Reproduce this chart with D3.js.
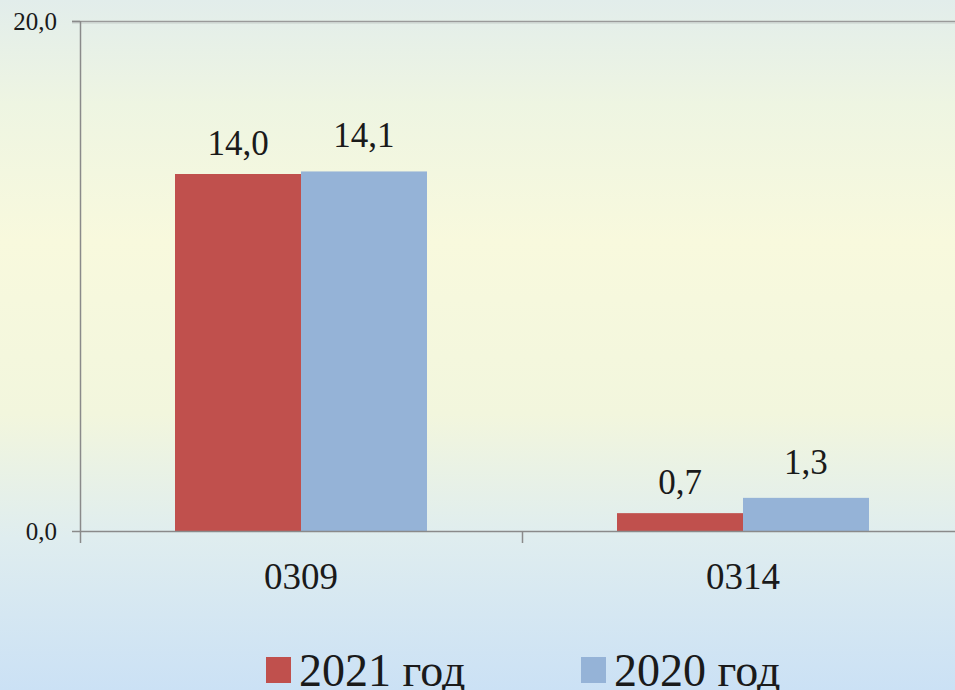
<!DOCTYPE html>
<html><head><meta charset="utf-8">
<script src="https://cdn.jsdelivr.net/npm/d3@7"></script>
</head><body style="margin:0">
<script>
const categories = ["0309", "0314"];
const seriesNames = ["2021 год", "2020 год"];
const values2021 = [14.0, 0.7];
const values2020 = [14.1, 1.3];
const yTicks = [0, 20];
const colors = ["#c0504d", "#95b3d7"];

const W = 955, H = 690;
const famParts = ["Liberation", "Serif"];
const FONT = `"${famParts.join(" ")}"`;
const svg = d3.select("body").append("svg").attr("width", W).attr("height", H).style("display", "block");
const defs = svg.append("defs");
const grad = defs.append("linearGradient").attr("id", "bg").attr("x1", 0).attr("y1", 0).attr("x2", 0).attr("y2", 1);
[[0, "#e2edeb"], [0.15, "#eef5e2"], [0.35, "#f8f9dd"], [0.6, "#f2f6dd"], [0.78, "#dfedef"], [1, "#cbe1f5"]]
  .forEach(([o, c]) => grad.append("stop").attr("offset", o).attr("stop-color", c));
svg.append("rect").attr("width", W).attr("height", H).attr("fill", "url(#bg)");

const pLeft = 80, pRight = 964, pTop = 21, pBottom = 531;
const x0 = d3.scaleBand().domain(categories).range([pLeft, pRight]).padding(0);
const x1 = d3.scaleBand().domain(seriesNames).range([0, x0.bandwidth()]).paddingInner(0).paddingOuter(0.754);
const y = d3.scaleLinear().domain([0, 20]).range([pBottom, pTop]);

const data = categories.map((c, i) => ({cat: c, vals: [values2021[i], values2020[i]]}));
const labelGap = [19, 24];

svg.append("line").attr("x1", pLeft - 8).attr("x2", W).attr("y1", y(20) + 0.5).attr("y2", y(20) + 0.5)
  .attr("stroke", "#9a9a9a").attr("stroke-width", 1.5);
svg.append("line").attr("x1", pLeft - 8).attr("x2", W).attr("y1", y(20) + 2).attr("y2", y(20) + 2)
  .attr("stroke", "#c8cfcc").attr("stroke-width", 1);

const groups = svg.selectAll("g.cat").data(data).enter().append("g")
  .attr("transform", d => `translate(${x0(d.cat)},0)`);
groups.selectAll("rect").data(d => d.vals.map((v, i) => ({v, i}))).enter().append("rect")
  .attr("x", d => x1(seriesNames[d.i]))
  .attr("width", x1.bandwidth())
  .attr("y", d => y(d.v))
  .attr("height", d => y(0) - y(d.v))
  .attr("fill", d => colors[d.i]);
groups.selectAll("text").data(d => d.vals.map((v, i) => ({v, i}))).enter().append("text")
  .style("font-family", FONT).style("font-size", "35px")
  .attr("x", d => x1(seriesNames[d.i]) + x1.bandwidth() / 2)
  .attr("y", d => y(d.v) - labelGap[d.i])
  .attr("text-anchor", "middle")
  .attr("fill", "#1a1a1a")
  .text(d => d3.format(".1f")(d.v).replace(".", ","));

const axisColor = "#8a8a8a";
svg.append("line").attr("x1", pLeft + 0.5).attr("x2", pLeft + 0.5).attr("y1", pTop).attr("y2", pBottom + 12)
  .attr("stroke", axisColor).attr("stroke-width", 1.5);
svg.append("line").attr("x1", pLeft - 8).attr("x2", W).attr("y1", pBottom + 0.5).attr("y2", pBottom + 0.5)
  .attr("stroke", axisColor).attr("stroke-width", 1.5);
svg.append("line").attr("x1", pLeft - 8).attr("x2", pLeft).attr("y1", pTop + 0.5).attr("y2", pTop + 0.5)
  .attr("stroke", axisColor).attr("stroke-width", 1.5);
categories.slice(1).forEach(c => {
  svg.append("line").attr("x1", x0(c) + 0.5).attr("x2", x0(c) + 0.5).attr("y1", pBottom).attr("y2", pBottom + 12)
    .attr("stroke", axisColor).attr("stroke-width", 1.5);
});

svg.selectAll("text.ytick").data(yTicks).enter().append("text")
  .style("font-family", FONT).style("font-size", "25px")
  .attr("x", 57).attr("y", d => y(d) + 9)
  .attr("text-anchor", "end")
  .attr("fill", "#1a1a1a")
  .text(d => d3.format(".1f")(d).replace(".", ","));

svg.selectAll("text.xcat").data(categories).enter().append("text")
  .style("font-family", FONT).style("font-size", "37px")
  .attr("x", d => x0(d) + x1(seriesNames[1]))
  .attr("y", 589)
  .attr("text-anchor", "middle")
  .attr("fill", "#1a1a1a")
  .text(d => d);

const legX = [266, 581];
seriesNames.forEach((s, i) => {
  svg.append("rect").attr("x", legX[i]).attr("y", 657).attr("width", 25).attr("height", 26).attr("fill", colors[i]);
  svg.append("text")
    .style("font-family", FONT).style("font-size", "46px")
    .attr("x", legX[i] + 33).attr("y", 686)
    .attr("fill", "#1a1a1a")
    .text(s);
});
</script>
</body></html>
